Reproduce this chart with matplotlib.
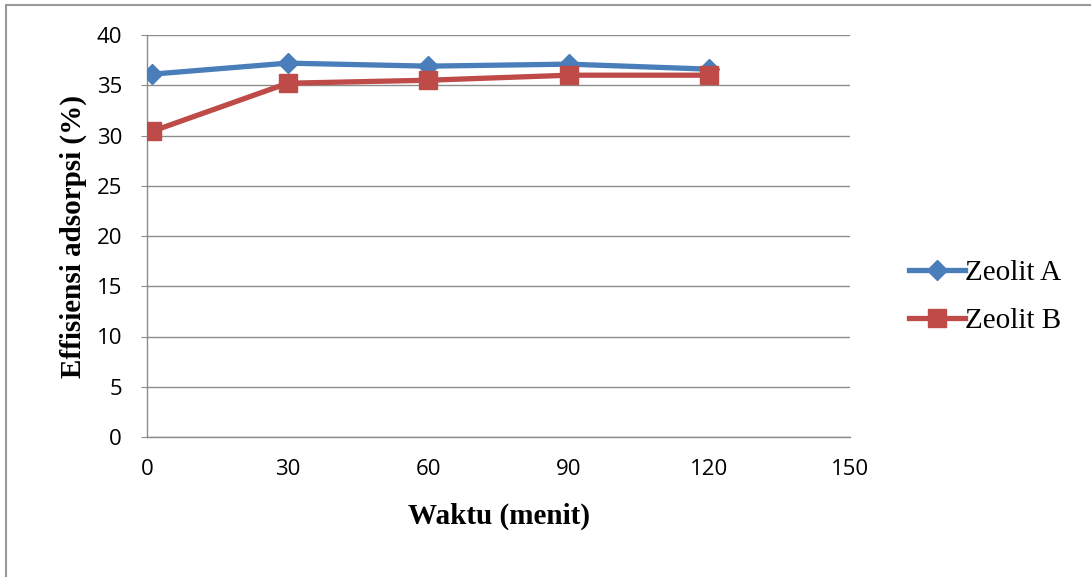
import matplotlib
matplotlib.use("Agg")
import matplotlib.pyplot as plt
from matplotlib.patches import Rectangle

# data
waktu = [1, 30, 60, 90, 120]
zeolit_a = [36.1, 37.2, 36.9, 37.1, 36.6]
zeolit_b = [30.4, 35.2, 35.5, 36.0, 36.0]
x_ticks = [0, 30, 60, 90, 120, 150]
y_ticks = [0, 5, 10, 15, 20, 25, 30, 35, 40]

blue = "#4a7ebb"
red = "#be4b48"
grid_c = "#8c8c8c"

fig = plt.figure(figsize=(10.91, 5.77), dpi=100)
# outer chart frame (only top/left edges visible in the crop)
fig.patches.append(Rectangle((6 / 1091, -0.05), 1.2, 1 - 5 / 577 + 0.05,
                             transform=fig.transFigure, fill=False,
                             edgecolor="#999999", linewidth=1.5))

ax = fig.add_axes([147 / 1091, 1 - 437 / 577, 703 / 1091, 402 / 577])
ax.plot(waktu, zeolit_a, color=blue, linewidth=3.8, marker="D", markersize=10.5,
        label="Zeolit A", zorder=3)
ax.plot(waktu, zeolit_b, color=red, linewidth=3.8, marker="s", markersize=13,
        label="Zeolit B", zorder=3)

ax.set_xlim(0, 150)
ax.set_ylim(0, 40)
ax.set_xticks(x_ticks)
ax.set_yticks(y_ticks)
ax.yaxis.grid(True, color=grid_c, linewidth=1)
ax.set_axisbelow(True)
for s in ["top", "right"]:
    ax.spines[s].set_visible(False)
for s in ["left", "bottom"]:
    ax.spines[s].set_color(grid_c)
    ax.spines[s].set_linewidth(1)
ax.tick_params(axis="y", length=4, color=grid_c, pad=14, labelsize=16)
ax.tick_params(axis="x", length=0, pad=16, labelsize=16)
for lbl in ax.get_xticklabels() + ax.get_yticklabels():
    lbl.set_fontfamily("Open Sans")

ax.set_xlabel("Waktu (menit)", fontsize=21, fontweight="bold",
              fontfamily="Liberation Serif", labelpad=16)
ax.set_ylabel("Effisiensi adsorpsi (%)", fontsize=21, fontweight="bold",
              fontfamily="Liberation Serif", labelpad=7)

fig.legend(loc="center left", bbox_to_anchor=(883 / 1091, 1 - 297 / 577),
           frameon=False, prop={"family": "Liberation Serif", "size": 21},
           handlelength=1.9, handletextpad=0.0, labelspacing=0.75)

fig.savefig("out.png", dpi=100)
